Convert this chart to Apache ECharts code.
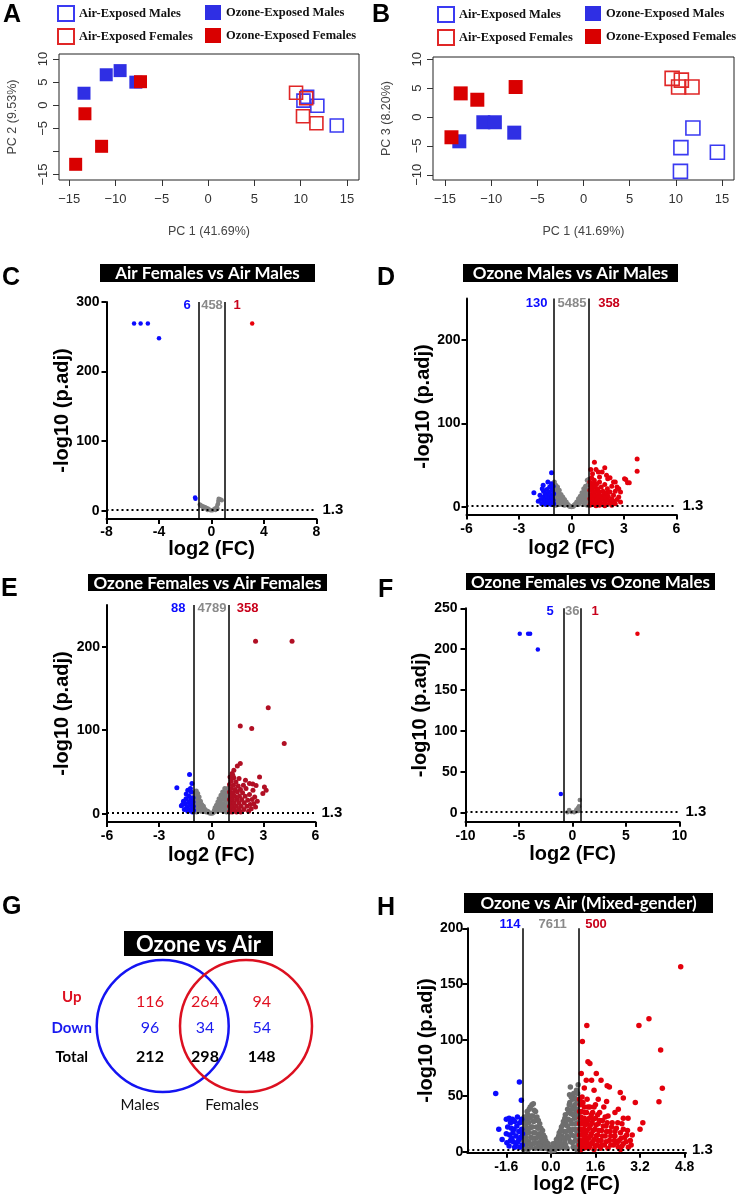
<!DOCTYPE html>
<html>
<head>
<meta charset="utf-8">
<script src="https://cdn.jsdelivr.net/npm/echarts@6/dist/echarts.min.js"></script>
<style>
  html, body { margin: 0; padding: 0; background: #fff; }
  #chart { width: 742px; height: 1198px; }
</style>
</head>
<body>
<div id="chart"></div>
<script>
// ---- PCA (A: PC1 vs PC2, B: PC1 vs PC3) ----
const airMalesA = [[10.3, 1.0], [10.7, 1.8], [11.8, -0.1], [13.9, -4.4]];
const airFemalesA = [[9.5, 2.7], [10.6, 1.5], [10.25, -2.4], [11.7, -3.9]];
const ozoneMalesA = [[-13.4, 2.6], [-11.0, 6.6], [-9.5, 7.5], [-7.8, 5.0]];
const ozoneFemalesA = [[-7.3, 5.1], [-13.3, -1.85], [-11.5, -8.9], [-14.3, -12.8]];

const airMalesB = [[11.85, -1.9], [10.55, -5.3], [14.5, -6.1], [10.5, -9.4]];
const airFemalesB = [[9.6, 6.7], [10.6, 6.4], [10.3, 5.2], [11.75, 5.2]];
const ozoneMalesB = [[-13.45, -4.2], [-10.85, -0.9], [-9.6, -0.9], [-7.5, -2.7]];
const ozoneFemalesB = [[-13.3, 4.1], [-11.5, 3.0], [-7.35, 5.2], [-14.3, -3.5]];

const pcTicks = [-15, -10, -5, 0, 5, 10, 15];
const pc2Labels = [-15, -5, 0, 5, 10];
const pc3Ticks = [-10, -5, 0, 5, 10];

// ---- volcano plots ----
const cGray = [[-0.9, 9], [-0.85, 8], [-0.8, 7], [-0.76, 7], [-0.7, 6], [-0.62, 6], [-0.55, 5], [-0.5, 5], [-0.42, 4], [-0.35, 3], [-0.28, 3], [-0.2, 2], [-0.12, 1], [-0.05, 0.5], [0.05, 0.5], [0.12, 1], [0.2, 2], [0.28, 3], [0.35, 3], [0.4, 5], [0.45, 8], [0.5, 10], [0.52, 14], [0.55, 17], [0.6, 16], [0.7, 16], [0.78, 15], [0.45, 3], [0.3, 1], [-0.6, 3], [-0.3, 1]];
const cBlue = [[-5.9, 269], [-5.4, 269], [-4.85, 269], [-4.0, 248], [-1.22, 17], [-1.25, 19]];
const cRed = [[3.1, 269]];
const cCounts = [6, 458, 1];

const dGray = [[-0.98, 30], [-0.95, 22], [-0.95, 12], [-0.95, 5], [-0.9, 26], [-0.9, 17], [-0.9, 8], [-0.9, 2], [-0.85, 20], [-0.8, 24], [-0.8, 14], [-0.8, 6], [-0.75, 18], [-0.7, 20], [-0.7, 10], [-0.7, 3], [-0.65, 13], [-0.6, 15], [-0.6, 7], [-0.55, 11], [-0.5, 12], [-0.5, 4], [-0.45, 8], [-0.4, 9], [-0.4, 2], [-0.35, 5], [-0.3, 6], [-0.25, 3], [-0.2, 3], [-0.15, 1.5], [-0.1, 1], [-0.05, 0.5], [0, 0.3], [0.05, 0.5], [0.1, 1], [0.15, 2], [0.2, 3], [0.25, 4], [0.3, 6], [0.35, 5], [0.4, 10], [0.4, 3], [0.45, 9], [0.5, 13], [0.5, 6], [0.55, 11], [0.6, 17], [0.6, 8], [0.65, 14], [0.7, 22], [0.7, 11], [0.7, 3], [0.75, 18], [0.8, 25], [0.8, 14], [0.8, 6], [0.85, 21], [0.9, 32], [0.9, 18], [0.9, 9], [0.9, 2], [0.95, 27], [0.95, 13], [0.95, 5], [0.98, 33]];
const dBlue = [[-2.15, 17], [-1.14, 41], [-1.67, 22], [-1.8, 14], [-1.75, 9], [-1.6, 19], [-1.6, 12], [-1.55, 6], [-1.5, 16], [-1.5, 9], [-1.45, 3], [-1.4, 21], [-1.4, 13], [-1.35, 8], [-1.3, 18], [-1.3, 4], [-1.25, 24], [-1.25, 11], [-1.2, 15], [-1.2, 7], [-1.15, 28], [-1.15, 3], [-1.1, 20], [-1.1, 12], [-1.05, 25], [-1.05, 8], [-1.02, 16], [-1.02, 4], [-1.7, 4], [-1.9, 7], [-1.62, 26], [-1.35, 30]];
const dRed = [[1.05, 2], [1.05, 10], [1.05, 20], [1.05, 30], [1.1, 5], [1.1, 15], [1.1, 25], [1.15, 8], [1.15, 35], [1.2, 3], [1.2, 12], [1.2, 22], [1.25, 17], [1.25, 28], [1.3, 6], [1.3, 10], [1.3, 32], [1.35, 14], [1.35, 24], [1.4, 3], [1.4, 19], [1.45, 9], [1.45, 28], [1.5, 5], [1.5, 14], [1.5, 22], [1.55, 11], [1.6, 2], [1.6, 18], [1.6, 30], [1.65, 8], [1.7, 13], [1.7, 24], [1.75, 4], [1.8, 10], [1.8, 19], [1.85, 15], [1.9, 6], [1.9, 27], [1.95, 11], [2.0, 3], [2.0, 17], [2.05, 22], [2.1, 8], [2.1, 13], [2.2, 5], [2.2, 18], [2.3, 10], [2.3, 25], [2.4, 7], [2.4, 14], [2.5, 4], [2.5, 19], [2.6, 9], [2.7, 12], [2.8, 6], [2.3, 2], [1.9, 1.5], [1.4, 1.5],
  [1.31, 53.6], [1.9, 47], [3.75, 57.6], [3.75, 43], [3.1, 33], [3.3, 29], [1.75, 42], [2.6, 24], [1.4, 45], [2.0, 38], [2.2, 35], [1.6, 36], [2.4, 30], [2.7, 22], [2.8, 18], [1.53, 42], [2.07, 34], [2.5, 30], [3.03, 34], [3.2, 29], [1.2, 40], [1.1, 45]];
const dCounts = [130, 5485, 358];

const eGray = [[-0.98, 3], [-0.98, 10], [-0.97, 17], [-0.95, 24], [-0.92, 6], [-0.9, 14], [-0.88, 21], [-0.86, 27], [-0.85, 2], [-0.82, 10], [-0.8, 17], [-0.78, 24], [-0.75, 5], [-0.72, 13], [-0.7, 20], [-0.65, 8], [-0.62, 15], [-0.58, 3], [-0.55, 11], [-0.5, 6], [-0.45, 9], [-0.4, 3], [-0.35, 5], [-0.28, 2], [-0.2, 3], [-0.12, 1], [-0.05, 0.5], [0.05, 0.5], [0.12, 1.5], [0.18, 4], [0.22, 7], [0.28, 3], [0.3, 10], [0.35, 6], [0.38, 14], [0.42, 9], [0.45, 18], [0.5, 4], [0.52, 13], [0.56, 22], [0.6, 8], [0.62, 17], [0.66, 26], [0.7, 3], [0.7, 12], [0.74, 21], [0.78, 30], [0.8, 7], [0.82, 16], [0.85, 25], [0.88, 2], [0.9, 11], [0.92, 20], [0.95, 30], [0.96, 6], [0.97, 15], [0.98, 24]];
const eBlue = [[-1.25, 47], [-1.11, 36], [-1.98, 31], [-1.72, 9.6], [-1.44, 23.6], [-1.6, 15], [-1.55, 5], [-1.5, 12], [-1.45, 18], [-1.4, 8], [-1.35, 3], [-1.3, 14], [-1.28, 21], [-1.25, 10], [-1.2, 5], [-1.18, 17], [-1.15, 26], [-1.12, 12], [-1.1, 7], [-1.08, 2], [-1.05, 19], [-1.05, 14], [-1.03, 9], [-1.02, 4], [-1.65, 11], [-1.35, 28], [-1.2, 30]];
const eRed = [[1.05, 2], [1.05, 9], [1.05, 17], [1.05, 26], [1.05, 35], [1.08, 44], [1.12, 5], [1.12, 13], [1.12, 21], [1.15, 30], [1.15, 39], [1.2, 48], [1.2, 2], [1.22, 9], [1.22, 17], [1.25, 25], [1.28, 34], [1.3, 43], [1.32, 5], [1.32, 13], [1.35, 21], [1.38, 29], [1.42, 38], [1.45, 2], [1.45, 9], [1.48, 17], [1.5, 26], [1.55, 33], [1.58, 5], [1.6, 13], [1.62, 21], [1.68, 29], [1.7, 2], [1.72, 9], [1.75, 17], [1.8, 25], [1.85, 34], [1.88, 5], [1.9, 13], [1.95, 21], [2.0, 30], [2.05, 9], [2.1, 16], [2.15, 3], [2.2, 23], [2.25, 11], [2.3, 6], [2.35, 17], [2.4, 28], [2.45, 12], [2.5, 20], [2.55, 8], [2.65, 15], [2.2, 36], [1.6, 42], [1.3, 52],
  [2.55, 206.5], [4.65, 206.5], [3.28, 127], [1.67, 105], [2.33, 102], [4.2, 84], [1.67, 60], [1.5, 57], [1.24, 46], [1.97, 40], [2.78, 44], [3.06, 32], [3.16, 28], [2.97, 24], [2.39, 35.6], [2.58, 33.6]];
const eCounts = [88, 4789, 358];

const fGray = [[-0.32, 3.3], [-0.47, 0.5], [0.15, 0.5], [0.37, 4], [0.53, 6], [0.47, 3], [0.68, 15.5], [0.3, 1.5], [-0.1, 0.8], [0.6, 8], [0.55, 2]];
const fBlue = [[-4.93, 219], [-4.15, 219], [-3.96, 219], [-3.24, 199.6], [-1.09, 23]];
const fRed = [[6.07, 219]];
const fCounts = [5, 36, 1];

const hGray = [[-0.98, 2], [-0.98, 10], [-0.98, 18], [-0.97, 26], [-0.95, 31], [-0.9, 5], [-0.9, 13], [-0.9, 22], [-0.88, 30], [-0.85, 36], [-0.82, 2], [-0.8, 9], [-0.8, 17], [-0.8, 26], [-0.78, 38], [-0.72, 4], [-0.72, 13], [-0.7, 22], [-0.7, 32], [-0.68, 42], [-0.64, 7], [-0.62, 17], [-0.62, 27], [-0.6, 37], [-0.55, 3], [-0.55, 12], [-0.52, 22], [-0.5, 31], [-0.45, 8], [-0.42, 16], [-0.4, 25], [-0.35, 3], [-0.33, 11], [-0.3, 19], [-0.25, 6], [-0.22, 13], [-0.17, 3], [-0.15, 8], [-0.08, 2], [-0.05, 4], [0, 0.5],
  [-0.95, 7], [-0.95, 15], [-0.93, 22], [-0.92, 28], [-0.87, 10], [-0.86, 18], [-0.84, 26], [-0.83, 33], [-0.76, 7], [-0.76, 21], [-0.75, 30], [-0.74, 40], [-0.66, 12], [-0.66, 22], [-0.65, 32], [-0.63, 43], [-0.58, 8], [-0.57, 17], [-0.56, 28], [-0.55, 36], [-0.48, 4], [-0.47, 13], [-0.46, 21], [-0.45, 28], [-0.38, 7], [-0.37, 14], [-0.36, 21], [-0.28, 9], [-0.27, 15], [-0.2, 6], [-0.19, 10], [-0.12, 4], [-0.1, 7],
  [0.05, 2], [0.1, 4], [0.15, 3], [0.18, 8], [0.22, 5], [0.25, 12], [0.3, 3], [0.3, 17], [0.33, 9], [0.38, 22], [0.4, 14], [0.42, 4], [0.45, 27], [0.48, 18], [0.5, 9], [0.52, 33], [0.55, 24], [0.58, 3], [0.58, 14], [0.6, 38], [0.62, 29], [0.65, 20], [0.67, 51], [0.68, 44], [0.7, 9], [0.72, 34], [0.75, 25], [0.75, 15], [0.78, 47], [0.8, 4], [0.82, 40], [0.85, 48], [0.85, 30], [0.87, 20], [0.88, 10], [0.9, 36], [0.92, 55], [0.93, 2], [0.95, 44], [0.95, 26], [0.96, 15], [0.98, 60], [0.98, 33], [0.98, 7], [0.7, 58],
  [0.08, 7], [0.12, 1], [0.2, 11], [0.26, 7], [0.28, 14], [0.35, 19], [0.36, 12], [0.4, 6], [0.43, 24], [0.47, 12], [0.5, 30], [0.53, 6], [0.54, 18], [0.57, 28], [0.6, 23], [0.63, 12], [0.64, 35], [0.66, 42], [0.7, 18], [0.72, 28], [0.73, 49], [0.76, 38], [0.78, 8], [0.8, 20], [0.8, 33], [0.82, 52], [0.84, 14], [0.86, 42], [0.88, 25], [0.9, 4], [0.9, 47], [0.92, 31], [0.93, 18], [0.95, 38], [0.95, 10], [0.96, 52], [0.98, 20], [0.98, 44], [0.99, 3]];
const hBlue = [[-1.98, 52], [-1.13, 62.5], [-1.06, 46], [-1.87, 20], [-1.75, 11], [-1.6, 29], [-1.5, 30], [-1.45, 26], [-1.38, 29], [-1.3, 27], [-1.55, 22], [-1.42, 21], [-1.32, 20], [-1.22, 23], [-1.12, 26], [-1.05, 29], [-1.6, 16], [-1.48, 15], [-1.36, 17], [-1.25, 14], [-1.15, 18], [-1.05, 20], [-1.58, 8], [-1.45, 10], [-1.35, 9], [-1.25, 7], [-1.15, 11], [-1.08, 13], [-1.03, 6], [-1.5, 5], [-1.3, 4], [-1.12, 4], [-1.2, 31], [-1.4, 12], [-1.02, 16], [-1.18, 9]];
const hRed = [[1.05, 2], [1.05, 10], [1.05, 20], [1.05, 30], [1.05, 42], [1.1, 6], [1.1, 15], [1.1, 25], [1.1, 36], [1.12, 49], [1.18, 3], [1.18, 11], [1.18, 20], [1.2, 30], [1.2, 40], [1.25, 7], [1.25, 16], [1.28, 25], [1.28, 35], [1.3, 47], [1.35, 3], [1.35, 12], [1.38, 21], [1.38, 30], [1.4, 40], [1.45, 7], [1.45, 16], [1.48, 26], [1.5, 35], [1.55, 2], [1.55, 11], [1.58, 20], [1.6, 30], [1.6, 42], [1.65, 6], [1.68, 15], [1.7, 25], [1.75, 35], [1.78, 3], [1.8, 10], [1.82, 19], [1.85, 28], [1.9, 40], [1.92, 6], [1.95, 14], [1.98, 23], [2.05, 32], [2.05, 3], [2.1, 10], [2.12, 18], [2.2, 26], [2.25, 6], [2.3, 14], [2.35, 21], [2.42, 4], [2.45, 10], [2.5, 17], [2.55, 25], [2.6, 7], [2.65, 13], [2.75, 19], [2.78, 4], [2.85, 10], [2.92, 15], [2.5, 2], [2.0, 45], [1.7, 47], [2.3, 35], [2.6, 30],
  [1.03, 6], [1.03, 15], [1.03, 25], [1.03, 36], [1.03, 47], [1.08, 2], [1.08, 20], [1.08, 31], [1.15, 8], [1.15, 17], [1.15, 27], [1.15, 44], [1.22, 5], [1.22, 14], [1.22, 24], [1.22, 35], [1.3, 9], [1.3, 19], [1.32, 28], [1.33, 40], [1.4, 5], [1.42, 14], [1.42, 24], [1.45, 33], [1.5, 9], [1.52, 19], [1.52, 29], [1.55, 40], [1.6, 5], [1.62, 14], [1.62, 24], [1.68, 33], [1.7, 10], [1.72, 19], [1.75, 28], [1.82, 6], [1.85, 14], [1.88, 23], [1.95, 31], [1.98, 9], [2.0, 18], [2.02, 26], [2.15, 6], [2.15, 14], [2.18, 22], [2.28, 10], [2.3, 18], [2.38, 8], [2.4, 26], [2.52, 12], [2.55, 5], [2.6, 20], [2.7, 9], [2.72, 15], [2.88, 6],
  [1.33, 80.6], [1.4, 79], [1.63, 70], [1.09, 70], [1.46, 64], [1.27, 64], [4.0, 56.8], [3.88, 44.8], [3.03, 44], [2.02, 59], [2.1, 58], [2.49, 53], [1.8, 64], [2.6, 48], [2.42, 38], [2.77, 30], [3.2, 20], [3.3, 26], [1.2, 57], [1.55, 55],
  [4.66, 165.5], [3.52, 119], [3.16, 113], [1.29, 113], [1.13, 98.6], [3.94, 91]];
const hCounts = [114, 7611, 500];
const hTicks = [-1.6, 0, 1.6, 3.2, 4.8];

// ---- Venn (G) ----
const vennRows = ['Up', 'Down', 'Total'];
const vennUp = [116, 264, 94];
const vennDown = [96, 34, 54];
const vennTotal = [212, 298, 148];
const vennSets = ['Males', 'Females'];

const SANS = "'Liberation Sans', Arial, sans-serif";
const TITLE = "Lato, 'Open Sans', sans-serif";
const BLUE = '#0b0bff';
const GRAY = '#808080';

const chart = echarts.init(document.getElementById('chart'));

const minus = v => String(v).replace('-', '\u2212');

function pcAxisX(gridIndex, min, max) {
    return {
        type: 'value', gridIndex, min, max,
        name: 'PC 1 (41.69%)', nameLocation: 'middle', nameGap: 45,
        nameTextStyle: { fontFamily: SANS, fontSize: 12.5, color: '#444' },
        splitLine: { show: false },
        axisLine: { show: false, onZero: false },
        axisTick: { show: true, length: 6, customValues: pcTicks, lineStyle: { color: '#333' } },
        axisLabel: { customValues: pcTicks, margin: 13, formatter: minus, fontFamily: SANS, fontSize: 13, color: '#333' },
    };
}
function pcAxisY(gridIndex, min, max, name, ticks, labels) {
    return {
        type: 'value', gridIndex, min, max,
        name, nameLocation: 'middle', nameRotate: 90, nameGap: 40,
        nameTextStyle: { fontFamily: SANS, fontSize: 12.5, color: '#444' },
        splitLine: { show: false },
        axisLine: { show: false, onZero: false },
        axisTick: { show: true, length: 6, customValues: ticks, lineStyle: { color: '#333' } },
        axisLabel: { customValues: labels, rotate: 90, margin: 9, formatter: minus, fontFamily: SANS, fontSize: 13, color: '#333' },
    };
}
const pcStyle = {
    'Air-Exposed Males': { color: 'rgba(255,255,255,0)', borderColor: '#3a3af2', borderWidth: 1.6, opacity: 1 },
    'Ozone-Exposed Males': { color: '#2f2fe4', opacity: 1 },
    'Air-Exposed Females': { color: 'rgba(255,255,255,0)', borderColor: '#e02626', borderWidth: 1.6, opacity: 1 },
    'Ozone-Exposed Females': { color: '#d90000', opacity: 1 },
};
function pcSeries(idx, name, data, size) {
    return { type: 'scatter', name, xAxisIndex: idx, yAxisIndex: idx, data, symbol: 'rect', symbolSize: size, itemStyle: pcStyle[name] };
}

function vAxisX(gridIndex, min, max, ticks, gap, margin, fmt) {
    return {
        type: 'value', gridIndex, min, max,
        name: 'log2 (FC)', nameLocation: 'middle', nameGap: gap,
        nameTextStyle: { fontFamily: SANS, fontWeight: 'bold', fontSize: 20, color: '#000' },
        splitLine: { show: false },
        axisLine: { show: true, onZero: false, lineStyle: { color: '#000', width: 2 } },
        axisTick: { show: true, length: 5, customValues: ticks, lineStyle: { color: '#000', width: 2 } },
        axisLabel: { customValues: ticks, margin, formatter: fmt, fontFamily: SANS, fontWeight: 'bold', fontSize: 14, color: '#000' },
    };
}
function vAxisY(gridIndex, min, max, ticks, gap, margin) {
    return {
        type: 'value', gridIndex, min, max,
        name: '-log10 (p.adj)', nameLocation: 'middle', nameRotate: 90, nameGap: gap,
        nameTextStyle: { fontFamily: SANS, fontWeight: 'bold', fontSize: 20, color: '#000' },
        splitLine: { show: false },
        axisLine: { show: true, onZero: false, lineStyle: { color: '#000', width: 2 } },
        axisTick: { show: true, length: 5, customValues: ticks, lineStyle: { color: '#000', width: 2 } },
        axisLabel: { customValues: ticks, margin, fontFamily: SANS, fontWeight: 'bold', fontSize: 14, color: '#000' },
    };
}
function volcano(idx, gray, blue, red, redColor, cut, size, grayColor) {
    const base = { type: 'scatter', xAxisIndex: idx, yAxisIndex: idx, symbolSize: size, silent: true };
    return [
        {
            ...base, data: gray, itemStyle: { color: grayColor || GRAY, opacity: 1 },
            markLine: {
                silent: true, symbol: ['none', 'none'],
                label: { show: false },
                lineStyle: { color: '#000', width: 1.5, type: 'solid' },
                data: [
                    { xAxis: -cut }, { xAxis: cut },
                    {
                        yAxis: 1.3, lineStyle: { type: [2, 3], width: 2, color: '#000' },
                        label: { show: true, position: 'end', formatter: '1.3', distance: 6, fontFamily: SANS, fontWeight: 'bold', fontSize: 15, color: '#000' },
                    },
                ],
            },
        },
        { ...base, data: blue, itemStyle: { color: BLUE, opacity: 1 } },
        { ...base, data: red, itemStyle: { color: redColor, opacity: 1 } },
    ];
}

function legendItem(name, left, top) {
    return {
        data: [name], left, top, padding: 0, icon: 'rect', itemWidth: 16, itemHeight: 15, selectedMode: false,
        textStyle: { fontFamily: "'Liberation Serif', 'DejaVu Serif', serif", fontWeight: 'bold', fontSize: 12.5, color: '#111' },
    };
}

// graphic helpers
function letter(t, x, y) {
    return { type: 'text', x, y, style: { text: t, font: 'bold 25px ' + SANS, fill: '#000' } };
}
function titleBox(t, x, y, w, h, fs) {
    return [
        { type: 'rect', shape: { x, y, width: w, height: h }, style: { fill: '#000' } },
        { type: 'text', x: x + w / 2, y: y + h / 2 + 1, style: { text: t, font: 'bold ' + fs + 'px ' + TITLE, fill: '#fff', align: 'center', verticalAlign: 'middle' } },
    ];
}
function counts(vals, xs, y) {
    const cols = [BLUE, '#8a8a8a', '#c8001a'];
    return vals.map((v, i) => ({ type: 'text', x: xs[i], y, style: { text: String(v), font: 'bold 13px ' + SANS, fill: cols[i], align: 'center', verticalAlign: 'middle' } }));
}
function txt(t, x, y, font, fill) {
    return { type: 'text', x, y, style: { text: String(t), font, fill, align: 'center', verticalAlign: 'middle' } };
}

const vennCols = [150, 205, 261.7];
const vennY = [1001.7, 1028.3, 1056.7];
const graphic = [
    letter('A', 3, 3), letter('B', 372, 3), letter('C', 2, 266), letter('D', 377, 266),
    letter('E', 1, 577), letter('F', 378, 578), letter('G', 2, 895), letter('H', 377, 896),
    ...titleBox('Air Females vs Air Males', 100, 264, 215, 18, 17),
    ...titleBox('Ozone Males vs Air Males', 463, 264, 215, 18, 17),
    ...titleBox('Ozone Females vs Air Females', 88, 574, 239, 17, 17),
    ...titleBox('Ozone Females vs Ozone Males', 466, 573, 249, 17, 17),
    ...titleBox('Ozone vs Air', 124, 931, 149, 25, 22),
    ...titleBox('Ozone vs Air (Mixed-gender)', 464, 893, 249, 20, 17),
    ...counts(cCounts, [187, 212, 237], 305),
    ...counts(dCounts, [536.7, 572, 609], 303),
    ...counts(eCounts, [178.3, 212, 247.7], 608),
    ...counts(fCounts, [550, 572.3, 595], 611),
    ...counts(hCounts, [510, 552.7, 596], 924),
    { type: 'circle', shape: { cx: 162.7, cy: 1026, r: 66 }, style: { fill: 'none', stroke: '#1414f2', lineWidth: 2.5 } },
    { type: 'circle', shape: { cx: 246, cy: 1026, r: 66 }, style: { fill: 'none', stroke: '#dc1020', lineWidth: 2.5 } },
    txt(vennRows[0], 71.7, 997, 'bold 15px ' + TITLE, '#dd1020'),
    txt(vennRows[1], 71.7, 1028, 'bold 15px ' + TITLE, '#1a1af0'),
    txt(vennRows[2], 71.7, 1057, 'bold 15px ' + TITLE, '#000'),
    ...vennUp.map((v, i) => txt(v, vennCols[i], vennY[0], '16px ' + TITLE, '#e01020')),
    ...vennDown.map((v, i) => txt(v, vennCols[i], vennY[1], '16px ' + TITLE, '#1a1af0')),
    ...vennTotal.map((v, i) => txt(v, vennCols[i], vennY[2], 'bold 16px ' + TITLE, '#000')),
    txt(vennSets[0], 140, 1105, '15px ' + TITLE, '#111'),
    txt(vennSets[1], 232, 1105, '15px ' + TITLE, '#111'),
];

const option = {
    animation: false,
    backgroundColor: '#fff',
    grid: [
        { left: 59, top: 54, width: 300, height: 126, show: true, borderColor: '#222', borderWidth: 1 },
        { left: 433, top: 57, width: 301, height: 123, show: true, borderColor: '#222', borderWidth: 1 },
        { left: 106.5, top: 302, width: 210, height: 217 },
        { left: 466.5, top: 298.5, width: 210, height: 216 },
        { left: 107, top: 605, width: 208.5, height: 217 },
        { left: 465.5, top: 608.3, width: 214, height: 213.4 },
        { left: 467.3, top: 928.3, width: 218.7, height: 224.5 },
    ],
    legend: [
        legendItem('Air-Exposed Males', 57, 5), legendItem('Ozone-Exposed Males', 205, 5),
        legendItem('Air-Exposed Females', 57, 28), legendItem('Ozone-Exposed Females', 205, 28),
        legendItem('Air-Exposed Males', 437, 6), legendItem('Ozone-Exposed Males', 585, 6),
        legendItem('Air-Exposed Females', 437, 29), legendItem('Ozone-Exposed Females', 585, 29),
    ],
    xAxis: [
        pcAxisX(0, -16.1, 16.3),
        pcAxisX(1, -16.3, 16.3),
        vAxisX(2, -8, 8, [-8, -4, 0, 4, 8], 19, 6),
        vAxisX(3, -6, 6, [-6, -3, 0, 3, 6], 24, 8),
        vAxisX(4, -6, 6, [-6, -3, 0, 3, 6], 23, 7),
        vAxisX(5, -10, 10, [-10, -5, 0, 5, 10], 23, 7),
        vAxisX(6, -3.0, 4.85, hTicks, 19, 7, v => v.toFixed(1)),
    ],
    yAxis: [
        pcAxisY(0, -16.2, 11.1, 'PC 2 (9.53%)', pcTicks.slice(0, 6), pc2Labels),
        pcAxisY(1, -10.9, 10.4, 'PC 3 (8.20%)', pc3Ticks, pc3Ticks),
        vAxisY(2, -12, 300, [0, 100, 200, 300], 30, 7),
        vAxisY(3, -9, 250, [0, 100, 200], 25, 6),
        vAxisY(4, -10, 250, [0, 100, 200], 30, 7),
        vAxisY(5, -11, 250, [0, 50, 100, 150, 200, 250], 19, 8),
        vAxisY(6, -1, 200, [0, 50, 100, 150, 200], 26, 4),
    ],
    series: [
        pcSeries(0, 'Ozone-Exposed Males', ozoneMalesA, 13),
        pcSeries(0, 'Ozone-Exposed Females', ozoneFemalesA, 13),
        pcSeries(0, 'Air-Exposed Males', airMalesA, 13),
        pcSeries(0, 'Air-Exposed Females', airFemalesA, 13),
        pcSeries(1, 'Ozone-Exposed Males', ozoneMalesB, 14),
        pcSeries(1, 'Ozone-Exposed Females', ozoneFemalesB, 14),
        pcSeries(1, 'Air-Exposed Males', airMalesB, 14),
        pcSeries(1, 'Air-Exposed Females', airFemalesB, 14),
        ...volcano(2, cGray, cBlue, cRed, '#e8000b', 1, 4.5),
        ...volcano(3, dGray, dBlue, dRed, '#e4000c', 1, 5),
        ...volcano(4, eGray, eBlue, eRed, '#b10f24', 1, 5),
        ...volcano(5, fGray, fBlue, fRed, '#e8000b', 0.8, 4.5),
        ...volcano(6, hGray, hBlue, hRed, '#e4000c', 1, 5.5, '#6e6e6e'),
    ],
    graphic,
};
chart.setOption(option);
</script>
</body>
</html>
